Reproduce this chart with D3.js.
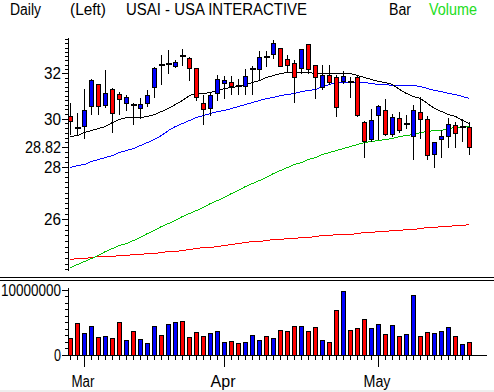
<!DOCTYPE html>
<html><head><meta charset="utf-8">
<script src="https://cdn.jsdelivr.net/npm/d3@7"></script>
<style>html,body{margin:0;padding:0;background:#fff;overflow:hidden}svg{display:block}</style>
</head><body><svg id="c" width="494" height="392"></svg>
<script>
// ---- data ----
const dates = ["2002-02-27","2002-02-28","2002-03-01","2002-03-04","2002-03-05","2002-03-06","2002-03-07","2002-03-08","2002-03-11","2002-03-12",
"2002-03-13","2002-03-14","2002-03-15","2002-03-18","2002-03-19","2002-03-20","2002-03-21","2002-03-22","2002-03-25","2002-03-26",
"2002-03-27","2002-03-28","2002-04-01","2002-04-02","2002-04-03","2002-04-04","2002-04-05","2002-04-08","2002-04-09","2002-04-10",
"2002-04-11","2002-04-12","2002-04-15","2002-04-16","2002-04-17","2002-04-18","2002-04-19","2002-04-22","2002-04-23","2002-04-24",
"2002-04-25","2002-04-26","2002-04-29","2002-04-30","2002-05-01","2002-05-02","2002-05-03","2002-05-06","2002-05-07","2002-05-08",
"2002-05-09","2002-05-10","2002-05-13","2002-05-14","2002-05-15","2002-05-16","2002-05-17","2002-05-20"];
const open  = [30.12,29.66,29.68,30.56,31.50,30.60,31.32,31.08,30.67,30.60,30.47,30.67,31.39,32.39,32.40,32.32,32.83,32.72,32.24,30.70,
30.44,31.12,31.56,31.60,31.46,31.43,32.17,32.19,32.77,32.89,33.17,32.67,32.46,32.24,33.36,32.38,31.39,31.95,31.84,31.64,
31.64,31.86,29.85,29.15,30.15,30.36,29.37,30.02,29.76,29.26,30.27,29.97,28.51,29.13,29.25,29.72,29.60,29.64];
const high  = [30.67,30.25,31.29,31.76,31.53,32.16,31.35,31.17,31.03,30.66,30.89,31.25,32.31,32.87,33.08,32.60,33.13,32.75,32.26,31.03,
31.17,31.93,31.90,31.88,31.76,32.19,32.35,33.05,33.05,33.56,33.19,32.84,32.60,33.15,33.38,32.40,32.38,32.38,31.95,32.11,
31.86,31.88,29.92,30.42,30.59,30.84,30.20,30.27,30.16,30.59,30.94,30.12,29.00,29.50,30.02,29.87,29.97,29.85];
const low   = [29.35,29.30,29.18,30.20,30.20,30.50,29.45,30.19,30.36,29.76,30.04,30.56,30.95,31.54,32.00,32.28,32.38,31.72,30.81,29.76,
30.16,30.83,30.90,31.08,31.08,31.09,31.09,31.72,32.35,32.70,32.32,32.10,30.73,32.00,32.00,30.91,31.32,31.50,30.13,31.55,
30.94,30.12,28.39,29.05,29.14,29.31,29.27,29.45,29.59,28.31,29.20,28.31,28.00,28.39,28.80,28.80,29.07,28.51];
const close = [29.89,29.62,30.36,31.72,30.56,31.14,30.23,30.85,30.93,30.58,30.62,31.01,32.24,32.37,32.42,32.52,32.81,32.24,30.93,30.40,
31.01,31.74,31.69,31.43,31.44,31.87,32.20,32.75,32.74,33.42,32.35,32.39,31.84,33.13,32.19,31.86,31.92,31.61,30.50,31.87,
31.61,30.15,29.07,29.93,30.55,29.37,30.06,29.50,29.78,30.36,29.97,28.47,29.00,29.25,29.76,29.38,29.63,28.82];
const volume = [2570000,4880000,3340000,4360000,2720000,2870000,2570000,5030000,2260000,3640000,
2410000,1790000,4410000,3030000,4720000,5030000,5180000,2720000,3490000,2870000,
3340000,3640000,1950000,2100000,1800000,1950000,3030000,2260000,2870000,2570000,
3800000,3640000,4410000,4410000,3640000,4260000,2260000,1950000,6870000,9790000,
3800000,4100000,5490000,4100000,4720000,3180000,4560000,2870000,3180000,9180000,
2870000,3490000,3340000,3640000,4260000,2870000,1640000,1950000];
const maBlack = [29.26,29.33,29.44,29.54,29.60,29.71,29.86,30.00,30.08,30.08,30.08,30.13,30.22,30.31,30.48,30.63,30.79,31.03,31.12,31.13,
31.18,31.27,31.33,31.37,31.43,31.52,31.61,31.71,31.82,31.95,32.02,32.07,32.08,32.08,32.07,32.01,32.00,32.01,32.02,32.01,
32.00,31.94,31.86,31.75,31.66,31.59,31.50,31.30,31.14,31.00,30.88,30.68,30.48,30.33,30.22,30.13,29.96,29.83];
const maBlue = [28.02,28.07,28.13,28.23,28.34,28.41,28.49,28.59,28.69,28.79,28.91,29.02,29.16,29.33,29.53,29.68,29.80,29.93,30.06,30.17,
30.24,30.32,30.39,30.48,30.55,30.65,30.74,30.82,30.89,30.96,31.02,31.07,31.12,31.19,31.25,31.32,31.42,31.51,31.60,31.62,
31.63,31.63,31.61,31.57,31.54,31.51,31.49,31.48,31.47,31.46,31.41,31.34,31.26,31.19,31.14,31.07,30.97,30.89];
const maGreen = [24.30,24.40,24.50,24.61,24.72,24.86,24.94,25.05,25.13,25.25,25.36,25.48,25.61,25.73,25.85,25.97,26.10,26.22,26.35,26.47,
26.60,26.72,26.85,26.99,27.12,27.24,27.37,27.50,27.62,27.75,27.88,28.00,28.12,28.22,28.32,28.41,28.51,28.61,28.71,28.78,
28.85,28.93,29.00,29.06,29.11,29.16,29.20,29.26,29.32,29.37,29.42,29.48,29.50,29.54,29.59,29.63,29.65,29.67];
const maRed = [24.56,24.58,24.61,24.63,24.65,24.67,24.68,24.70,24.71,24.73,24.75,24.77,24.79,24.81,24.83,24.86,24.88,24.91,24.94,24.97,
25.00,25.03,25.06,25.10,25.12,25.15,25.19,25.21,25.24,25.26,25.28,25.30,25.32,25.34,25.36,25.38,25.40,25.42,25.44,25.46,
25.47,25.49,25.51,25.53,25.55,25.56,25.59,25.60,25.63,25.65,25.67,25.70,25.71,25.74,25.76,25.78,25.80,25.82];
const monthLabels = ["Mar","Apr","May"];
const priceTickLabels = ["26","28","30","32"];
const lastCloseLabel = "28.82";
const volumeTickLabels = ["0","10000000"];
const titleLeft = ["Daily","(Left)","USAI - USA INTERACTIVE"];
const titleRight = ["Bar","Volume"];

// ---- drawing ----
const svg = d3.select("#c");
const FONT = "'Liberation Sans', Arial, sans-serif";
const BLUE = "#0000ff", RED = "#ff0000", GREEN = "#00c000";

const n = dates.length;
const x = d3.scalePoint().domain(d3.range(n)).range([70, 469]);
const y = d3.scaleLog().domain([24.18, 33.61]).range([270, 39]);
const yv = d3.scaleLinear().domain([0, 10000000]).range([355, 289.5]);

function txt(t, px, py, w, anchor, color) {
  return svg.append("text").attr("x", px).attr("y", py)
    .attr("font-family", FONT).attr("font-size", 16)
    .attr("text-anchor", anchor || "start")
    .attr("textLength", w).attr("lengthAdjust", "spacingAndGlyphs")
    .attr("fill", color || "#000").text(t);
}

// title row
const tlx = [10, 70, 126], tlw = [31, 36, 181];
titleLeft.forEach((t, i) => txt(t, tlx[i], 15, tlw[i]));
const trx = [389, 429], trw = [22, 48];
titleRight.forEach((t, i) => txt(t, trx[i], 15, trw[i], "start", i === 1 ? "#22dd22" : "#000"));

// price axis
const ax = svg.append("g").attr("shape-rendering", "crispEdges");
ax.append("line").attr("x1", 68.5).attr("x2", 68.5).attr("y1", 38).attr("y2", 271).attr("stroke", "#000");
const minor = d3.range(242, 337, 2).map(v => v / 10);
ax.selectAll(".mt").data(minor).join("line")
  .attr("x1", 65).attr("x2", 68).attr("y1", d => Math.round(y(d)) + 0.5).attr("y2", d => Math.round(y(d)) + 0.5)
  .attr("stroke", "#000");
const majorVals = priceTickLabels.map(Number).concat([+lastCloseLabel]);
ax.selectAll(".Mt").data(majorVals).join("line")
  .attr("x1", 62).attr("x2", 68).attr("y1", d => Math.round(y(d)) + 0.5).attr("y2", d => Math.round(y(d)) + 0.5)
  .attr("stroke", "#000");
priceTickLabels.forEach(t => txt(t, 61, Math.round(y(+t)) + 5.5, 17, "end"));
txt(lastCloseLabel, 61, Math.round(y(+lastCloseLabel)) + 5.5, 36, "end");

// moving averages (aliased, like the original)
const line = d3.line().x((d, i) => x(i) + 0.5).y(d => Math.round(y(d)) + 0.5);
[[maRed, RED], [maGreen, GREEN], [maBlue, BLUE], [maBlack, "#000"]].forEach(([arr, c]) => {
  svg.append("path").attr("d", line(arr)).attr("fill", "none").attr("stroke", c)
    .attr("stroke-width", 1).attr("shape-rendering", "crispEdges");
});

// candles
const cg = svg.append("g").attr("shape-rendering", "crispEdges");
d3.range(n).forEach(i => {
  const cx = x(i);
  const up = close[i] >= open[i];
  const yt = Math.round(y(Math.max(open[i], close[i])));
  const yb = Math.round(y(Math.min(open[i], close[i])));
  cg.append("line").attr("x1", cx + 0.5).attr("x2", cx + 0.5)
    .attr("y1", Math.round(y(high[i]))).attr("y2", Math.round(y(low[i])) + 1).attr("stroke", "#000");
  if (yb - yt < 2) {
    cg.append("rect").attr("x", cx - 2).attr("y", Math.round(y(close[i])) - 1).attr("width", 6).attr("height", 2).attr("fill", "#000");
  } else {
    cg.append("rect").attr("x", cx - 1.5).attr("y", yt + 0.5).attr("width", 4).attr("height", yb - yt)
      .attr("fill", up ? BLUE : RED).attr("stroke", "#000");
  }
});

// separators
svg.append("line").attr("x1", 0).attr("x2", 494).attr("y1", 277.5).attr("y2", 277.5).attr("stroke", "#000").attr("shape-rendering", "crispEdges");
svg.append("line").attr("x1", 0).attr("x2", 494).attr("y1", 280.5).attr("y2", 280.5).attr("stroke", "#000").attr("shape-rendering", "crispEdges");

// volume axis
const vx = svg.append("g").attr("shape-rendering", "crispEdges");
vx.append("line").attr("x1", 68.5).attr("x2", 68.5).attr("y1", 288).attr("y2", 356).attr("stroke", "#000");
vx.selectAll(".vt").data(d3.range(0, 10000001, 1000000)).join("line")
  .attr("x1", d => (d === 0 || d === 10000000) ? 62 : 65).attr("x2", 68)
  .attr("y1", d => Math.round(yv(d)) + 0.5).attr("y2", d => Math.round(yv(d)) + 0.5).attr("stroke", "#000");
txt(volumeTickLabels[1], 61, Math.round(yv(+volumeTickLabels[1])) + 6, 60, "end");
txt(volumeTickLabels[0], 61, Math.round(yv(0)) + 5.5, 7, "end");

// volume bars
d3.range(n).forEach(i => {
  const cx = x(i);
  const top = Math.round(yv(volume[i]));
  vx.append("rect").attr("x", cx - 1.5).attr("y", top + 0.5).attr("width", 4).attr("height", 355 - top)
    .attr("fill", close[i] >= open[i] ? BLUE : RED).attr("stroke", "#000");
});

// x axis
vx.append("line").attr("x1", 68).attr("x2", 487).attr("y1", 355.5).attr("y2", 355.5).attr("stroke", "#000");
const monthStart = [];
dates.forEach((d, i) => { if (i > 0 && d.slice(5, 7) !== dates[i - 1].slice(5, 7)) monthStart.push(i); });
vx.selectAll(".xt").data(d3.range(n)).join("line")
  .attr("x1", i => x(i) + 0.5).attr("x2", i => x(i) + 0.5)
  .attr("y1", 355).attr("y2", i => monthStart.includes(i) ? 367 : 360).attr("stroke", "#000");
const mw = [23, 25, 27];
monthStart.forEach((i, k) => txt(monthLabels[k], x(i) - 1, 387, mw[k], "middle"));

// bottom strip
svg.append("rect").attr("x", 0).attr("y", 390).attr("width", 494).attr("height", 2).attr("fill", "#eeeeee");
</script>
</body></html>
